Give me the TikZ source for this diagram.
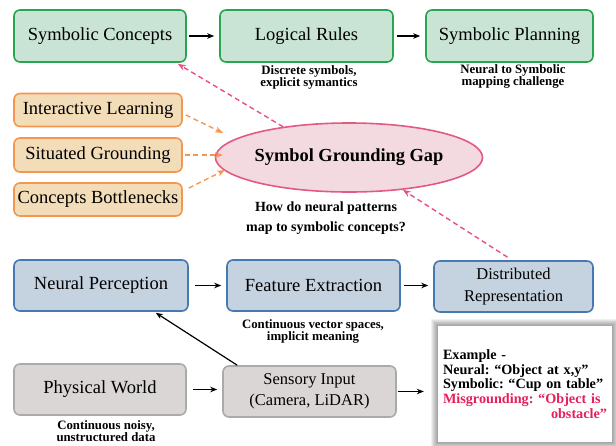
\documentclass[tikz,border=0pt]{standalone}
\usepackage{fontspec}
\setmainfont{Liberation Serif}
\usetikzlibrary{arrows.meta,shapes.geometric}
\definecolor{gfill}{RGB}{201,227,212}
\definecolor{gdraw}{RGB}{40,165,80}
\definecolor{ofill}{RGB}{243,221,184}
\definecolor{odraw}{RGB}{245,150,80}
\definecolor{efill}{RGB}{242,218,224}
\definecolor{edraw}{RGB}{226,90,130}
\definecolor{bfill}{RGB}{197,211,225}
\definecolor{bdraw}{RGB}{70,120,180}
\definecolor{kfill}{RGB}{217,214,213}
\definecolor{kdraw}{RGB}{170,170,170}
\definecolor{pinkarr}{RGB}{232,80,130}
\definecolor{mis}{RGB}{230,30,90}
\frenchspacing
\tikzset{
  box/.style={rectangle, rounded corners=6pt, line width=1.6pt, inner sep=0pt, align=center,
    font=\fontsize{18.5}{22}\selectfont},
  gbox/.style={box, draw=gdraw, fill=gfill, minimum height=52pt},
  obox/.style={box, draw=odraw, fill=ofill, minimum width=168pt},
  bbox/.style={box, draw=bdraw, fill=bfill, minimum height=51pt},
  kbox/.style={box, draw=kdraw, fill=kfill, minimum height=51pt},
  twoline/.style={font=\fontsize{16.5}{21.5}\selectfont},
  ann/.style={align=center, inner sep=0pt, font=\bfseries\fontsize{12.8}{12}\selectfont},
  arr/.style={-{Stealth[length=7pt,width=5.5pt]}, line width=1.2pt, black, shorten <=3pt, shorten >=5pt},
  parr/.style={-{Stealth[length=8pt,width=6pt]}, line width=1.4pt, pinkarr, dash pattern=on 5pt off 3.5pt},
  oarr/.style={-{Stealth[length=8pt,width=6pt]}, line width=1.4pt, odraw, dash pattern=on 5pt off 3.5pt},
}
\begin{document}
\begin{tikzpicture}[x=1pt,y=-1pt]
\useasboundingbox (0,0) rectangle (616,445);
% top row
\node[gbox, minimum width=172pt] (SC) at (100,36) {Symbolic Concepts};
\node[gbox, minimum width=173pt] (LR) at (306.5,36) {Logical Rules};
\node[gbox, minimum width=167pt] (SP) at (509.5,36) {Symbolic Planning};
\node[ann] (a1) at (309,77.5) {Discrete symbols,\\explicit symantics};
\node[ann] (a2) at (513,76) {Neural to Symbolic\\mapping challenge};
% orange
\node[obox, minimum height=33pt] (IL) at (98,110) {Interactive Learning};
\node[obox, minimum height=34pt] (SG) at (98,155) {Situated Grounding};
\node[obox, minimum height=33pt] (CB) at (98,199.5) {Concepts Bottlenecks};
% ellipse
\node[ellipse, draw=edraw, fill=efill, line width=1.6pt, minimum width=242pt, minimum height=69pt, inner sep=0pt,
  font=\bfseries\fontsize{18.4}{22}\selectfont] (gap) at (349,157.5) {Symbol Grounding Gap};
\node[ann, font=\bfseries\fontsize{14}{20}\selectfont] (a3) at (326,218) {How do neural patterns\\map to symbolic concepts?};
% blue row
\node[bbox, minimum width=174pt] (NP) at (101,285.5) {Neural Perception};
\node[bbox, minimum width=173pt] (FE) at (313.5,285.5) {Feature Extraction};
\node[bbox, minimum width=159pt, twoline] (DR) at (513.5,286.5) {Distributed\\Representation};
\node[ann] (a4) at (313,331) {Continuous vector spaces,\\implicit meaning};
% gray row
\node[kbox, minimum width=172pt] (PW) at (100,389.5) {Physical World};
\node[kbox, minimum width=173pt, twoline] (SI) at (309.5,391.5) {Sensory Input\\(Camera, LiDAR)};
\node[ann] (a5) at (106,431) {Continuous noisy,\\unstructured data};
% example box with shadow
\foreach \s in {1,...,7}{
  \fill[black, opacity=0.06] (438-\s,326-\s) rectangle (612+\s,442+\s);
}
\node[rectangle, fill=white, minimum width=174pt, minimum height=116pt,
  text width=164pt, inner xsep=5pt, inner ysep=0pt, align=left,
  font=\bfseries\fontsize{14.2}{14.8}\selectfont] (ex) at (525,384)
  {\hyphenpenalty=10000 Example -\\Neural: “Object at x,y”\\Symbolic: “Cup on table”\\\textcolor{mis}{Misgrounding: “Object is}\\\hspace*{\fill}\textcolor{mis}{obstacle”}};
% coordinates
\coordinate (o1) at (223,133);
\coordinate (o2) at (223,155);
\coordinate (o3) at (225,170);
% arrows
\draw[arr, shorten <=2pt] (SC) -- (LR);
\draw[arr] (LR) -- (SP);
\draw[arr, shorten <=6pt] (NP) -- (FE);
\draw[arr] (FE.east) -- (FE.east -| DR.west);
\draw[arr, shorten <=6pt] (PW) -- (PW.east -| SI.west);
\draw[arr, shorten <=1pt, shorten >=14pt] (SI.east) -- (SI.east -| ex.west);
\draw[arr, shorten <=0pt, shorten >=0pt] ([shift={(15,0)}]SI.north west) -- ([shift={(-33,1)}]NP.south east);
\draw[parr] (gap.155) -- ([shift={(-9,1)}]SC.south east);
\draw[parr] ([shift={(-6,-3)}]DR.north) -- (gap.-31.5);
\draw[oarr] ([shift={(3,5)}]IL.east) -- (o1);
\draw[oarr] ([shift={(2,0)}]SG.east) -- (o2);
\draw[oarr] ([shift={(6,-11.5)}]CB.east) -- (o3);
\end{tikzpicture}
\end{document}
